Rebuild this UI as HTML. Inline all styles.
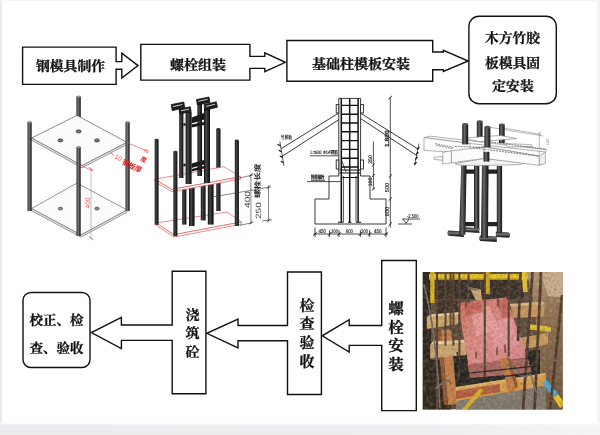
<!DOCTYPE html>
<html lang="zh-CN">
<head>
<meta charset="utf-8">
<title>螺栓安装流程</title>
<style>
html,body{margin:0;padding:0;background:#fff;}
body{width:600px;height:435px;overflow:hidden;position:relative;}
svg{display:block;position:absolute;left:0;top:0;}
text{text-rendering:geometricPrecision;}
#flow-top,#flow-bottom,#d1,#d2,#d3,#d4{opacity:0.999;}
.t{font-family:"Liberation Serif","Noto Serif CJK SC",serif;font-weight:700;fill:#111;stroke:#111;stroke-width:0.3px;}
.bx{fill:#fff;stroke:#111;stroke-width:1.4;stroke-linejoin:miter;}
.ar{fill:#fff;stroke:#111;stroke-width:1.3;stroke-linejoin:miter;}
</style>
</head>
<body>
<svg width="600" height="435" viewBox="0 0 600 435">
<rect x="0" y="0" width="600" height="435" fill="#ffffff"/>
<!-- page frame tint -->
<defs>
<linearGradient id="bband" x1="0" x2="0" y1="0" y2="1"><stop offset="0" stop-color="#ffffff"/><stop offset="0.2" stop-color="#ededef"/><stop offset="1" stop-color="#ececee"/></linearGradient>
<linearGradient id="bbandx" x1="0" x2="1" y1="0" y2="0"><stop offset="0" stop-color="#fff" stop-opacity="0"/><stop offset="0.7" stop-color="#fff" stop-opacity="0.1"/><stop offset="1" stop-color="#fff" stop-opacity="0.45"/></linearGradient>
</defs>
<rect x="0" y="0" width="2" height="435" fill="#ececee"/>
<rect x="597" y="0" width="3" height="435" fill="#f4f4f6"/>
<rect x="0" y="0" width="600" height="1" fill="#f4f4f6"/>
<rect x="0" y="423" width="600" height="12" fill="url(#bband)"/>
<rect x="0" y="423" width="600" height="12" fill="url(#bbandx)"/>

<!-- ===== FLOW BOXES: top row ===== -->
<g id="flow-top">
<path class="bx" d="M116.1 61.6 V47.1 H22.6 V84.4 H116.1 V69.2 H121.8 V78 L138 65.6 L121.8 53.2 V61.6 Z"/>
<text class="t" x="70.5" y="71" font-size="13.8" text-anchor="middle">钢模具制作</text>

<path class="bx" d="M249.9 56.4 V44.4 H140.8 V80.1 H249.9 V68.4 H264.8 V71.7 L285.4 62.3 L264.8 52.9 V56.4 Z"/>
<text class="t" x="198" y="70" font-size="14" text-anchor="middle">螺栓组装</text>

<path class="bx" d="M432.7 52 V40.5 H286.9 V81.3 H432.7 V69.7 H443.4 V71.5 L468.2 61 L443.4 50.4 V52 Z"/>
<text class="t" x="361" y="69" font-size="14" text-anchor="middle">基础柱模板安装</text>

<rect class="bx" x="468.9" y="16.25" width="87.4" height="87.5" rx="10" ry="10"/>
<text class="t" x="512.5" y="43" font-size="13.8" text-anchor="middle">木方竹胶</text>
<text class="t" x="512.5" y="68" font-size="13.8" text-anchor="middle">板模具固</text>
<text class="t" x="513" y="91.3" font-size="13.8" text-anchor="middle">定安装</text>
</g>

<!-- ===== FLOW BOXES: bottom row ===== -->
<g id="flow-bottom">
<rect class="bx" x="23" y="292.5" width="67" height="75" rx="8" ry="8"/>
<text class="t" x="56.5" y="325.4" font-size="13.5" text-anchor="middle">校正、检</text>
<text class="t" x="56.5" y="352.5" font-size="13.5" text-anchor="middle">查、验收</text>

<path class="bx" d="M172.2 325 V271.3 H205.9 V393.8 H172.2 V340.4 H121.4 V348.6 L91.4 332.6 L121.4 317.4 V325 Z"/>
<text class="t" x="192.5" y="319.5" font-size="14" text-anchor="middle">浇</text>
<text class="t" x="192.5" y="338" font-size="14" text-anchor="middle">筑</text>
<text class="t" x="192.5" y="357" font-size="14" text-anchor="middle">砼</text>

<path class="bx" d="M287.5 325.5 V272 H321.4 V394.5 H287.5 V340.8 H238 V348 L206.8 333.3 L238 319.2 V325.5 Z"/>
<text class="t" x="307" y="310.5" font-size="15" text-anchor="middle">检</text>
<text class="t" x="307" y="329" font-size="15" text-anchor="middle">查</text>
<text class="t" x="307" y="348" font-size="15" text-anchor="middle">验</text>
<text class="t" x="307" y="367" font-size="15" text-anchor="middle">收</text>

<path class="bx" d="M381.7 325.5 V260.5 H416.3 V410.6 H381.7 V345.4 H349.2 V352 L322.2 335.8 L349.2 319.7 V325.5 Z"/>
<text class="t" x="396" y="314" font-size="15.5" text-anchor="middle">螺</text>
<text class="t" x="396" y="332.5" font-size="15.5" text-anchor="middle">栓</text>
<text class="t" x="396" y="350.5" font-size="15.5" text-anchor="middle">安</text>
<text class="t" x="396" y="369.5" font-size="15.5" text-anchor="middle">装</text>
</g>

<!-- DRAWINGS -->
<g id="d1">
<defs>
<linearGradient id="rod" x1="0" x2="1" y1="0" y2="0">
<stop offset="0" stop-color="#262626"/><stop offset="0.42" stop-color="#7c7c7c"/><stop offset="0.7" stop-color="#404040"/><stop offset="1" stop-color="#1a1a1a"/>
</linearGradient>
</defs>
<!-- back rod -->
<rect x="76.4" y="97" width="4.4" height="20.5" fill="url(#rod)"/><ellipse cx="78.6" cy="97" rx="2.2" ry="1.1" fill="#9a9a9a" stroke="#333" stroke-width="0.4"/>
<!-- lower plate -->
<path d="M31.6 208.6 L77 183 L127 210 L81 235 Z" fill="#fbfbfb" stroke="#666" stroke-width="0.7"/>
<path d="M31.6 208.6 L81 235 L127 210 V212.2 L81 237.2 L31.6 210.8 Z" fill="#e4e4e4" stroke="#666" stroke-width="0.6"/>
<ellipse cx="60.4" cy="208.6" rx="2.3" ry="1.5" fill="#888" stroke="#333" stroke-width="0.5"/>
<ellipse cx="97" cy="208.6" rx="2.3" ry="1.5" fill="#888" stroke="#333" stroke-width="0.5"/>
<!-- upper plate -->
<path d="M31.6 138 L77 115.4 L127 142.4 L82 165.6 Z" fill="#fbfbfb" stroke="#5a5a5a" stroke-width="0.7"/>
<path d="M31.6 138 L82 165.6 L127 142.4 V144.6 L82 167.8 L31.6 140.2 Z" fill="#e2e2e2" stroke="#666" stroke-width="0.6"/>
<ellipse cx="78.6" cy="131.4" rx="2.5" ry="1.6" fill="#777" stroke="#222" stroke-width="0.6"/>
<ellipse cx="60.4" cy="140.4" rx="2.5" ry="1.6" fill="#777" stroke="#222" stroke-width="0.6"/>
<ellipse cx="97" cy="140.4" rx="2.5" ry="1.6" fill="#777" stroke="#222" stroke-width="0.6"/>
<!-- side rods -->
<rect x="27.5" y="122.5" width="4.2" height="88.5" fill="url(#rod)"/><ellipse cx="29.6" cy="122.5" rx="2.1" ry="1.1" fill="#9a9a9a" stroke="#333" stroke-width="0.4"/>
<rect x="125.5" y="122.5" width="4.2" height="88.5" fill="url(#rod)"/><ellipse cx="127.6" cy="122.5" rx="2.1" ry="1.1" fill="#9a9a9a" stroke="#333" stroke-width="0.4"/>
<rect x="76.5" y="147.5" width="4.2" height="88.5" fill="url(#rod)"/><ellipse cx="78.6" cy="147.5" rx="2.1" ry="1.1" fill="#9a9a9a" stroke="#333" stroke-width="0.4"/>
<!-- dimensions -->
<line x1="91" y1="169" x2="91" y2="238" stroke="#999" stroke-width="0.6"/>
<path d="M89 167.5 L93.5 171 M89 236.5 L93.5 240" stroke="#e03030" stroke-width="0.8" fill="none"/>
<text x="90" y="203" transform="rotate(-90 90 203)" font-family="'Liberation Sans',sans-serif" font-size="6.5" fill="#e05050" text-anchor="middle">400</text>
<path d="M127 142.6 L147 151.2 M82 166 L92 170.5 M110 151.5 L114 156" stroke="#e04040" stroke-width="0.6" fill="none"/>
<text x="114" y="158" transform="rotate(28 114 158)" font-family="'Liberation Sans',sans-serif" font-size="6.5" fill="#e05050">10</text>
<text x="121.5" y="163.5" transform="rotate(27 121.5 163.5)" font-family="'Liberation Sans','Noto Sans CJK SC',sans-serif" font-weight="bold" font-size="7" fill="#e81818">钢板厚</text>
<text x="140" y="160" transform="rotate(27 140 160)" font-family="'Liberation Sans','Noto Sans CJK SC',sans-serif" font-weight="bold" font-size="6" fill="#e81818">度</text>
<text x="143" y="151" transform="rotate(27 143 151)" font-family="'Liberation Sans',sans-serif" font-size="5" fill="#e05050">45</text>
</g>
<g id="d2">
<defs>
<linearGradient id="rod2" x1="0" x2="1" y1="0" y2="0">
<stop offset="0" stop-color="#111"/><stop offset="0.4" stop-color="#4a4a4a"/><stop offset="0.6" stop-color="#2a2a2a"/><stop offset="1" stop-color="#0c0c0c"/>
</linearGradient>
</defs>
<!-- back-right outer rod (behind plates) -->
<rect x="216.3" y="129" width="4.2" height="82" fill="url(#rod2)"/><ellipse cx="218.4" cy="129" rx="2.1" ry="1" fill="#333"/>
<!-- lower plate -->
<path d="M155.9 223 L227 212 L241.4 222 L174 234.7 Z" fill="#fff" stroke="#e05a5a" stroke-width="0.7"/>
<path d="M155.9 223 L174 234.7 L241.4 222 V224.2 L174 237 L155.9 225.2 Z" fill="#fff" stroke="#e05a5a" stroke-width="0.7"/>
<!-- inner bolts lower part -->
<rect x="182.2" y="186" width="4.2" height="38.6" fill="url(#rod2)"/>
<rect x="189" y="186" width="5.6" height="40" fill="url(#rod2)"/>
<rect x="200.8" y="183" width="4.8" height="37.4" fill="url(#rod2)"/>
<rect x="207.8" y="183" width="5.8" height="41.6" fill="url(#rod2)"/>
<!-- upper plate -->
<path d="M154.7 179.3 L223.8 166.7 L240.6 176.8 L171.8 189.4 Z" fill="#fff" stroke="#e05a5a" stroke-width="0.7"/>
<path d="M154.7 179.3 L171.8 189.4 L240.6 176.8 V179 L171.8 191.7 L154.7 181.5 Z" fill="#fff" stroke="#e05a5a" stroke-width="0.7"/>
<!-- inner bolts upper part -->
<rect x="179.2" y="110" width="4.2" height="68" fill="url(#rod2)"/>
<rect x="185.6" y="112" width="6" height="72" fill="url(#rod2)"/>
<rect x="197.4" y="103" width="4.6" height="73" fill="url(#rod2)"/>
<rect x="204" y="108" width="6" height="75" fill="url(#rod2)"/>
<path d="M184.4 118 V176 M203 112 V172" stroke="#bbb" stroke-width="0.5"/>
<!-- braces -->
<path d="M191.6 117.5 L204 113 V119.5 L191.6 123.5 Z M191.6 124.5 L204 122 V125 L191.6 127.5 Z" fill="#1a1a1a"/>
<path d="M191.6 163.5 L204 160 V164.5 L191.6 168 Z M191.6 169 L204 166 V168.5 L191.6 171.5 Z" fill="#1a1a1a"/>
<path d="M183.4 124.5 H185.6 M183.4 165 H185.6 M202 118 H204 M202 163 H204" stroke="#1a1a1a" stroke-width="2.6"/>
<!-- heads -->
<g stroke="#111" stroke-width="0.7" fill="#1e1e1e">
<path d="M171.2 104.6 L183.8 102 L184.8 107.6 L172.2 110.8 Z"/>
<path d="M179 109 L190.4 106.8 L191.2 111.6 L179.8 114 Z"/>
<path d="M196.4 99.6 L209 97 L210 102.4 L197.4 105 Z"/>
<path d="M204 104.6 L216.4 101.8 L217.4 107.2 L205 110.4 Z"/>
</g>
<path d="M173 106.6 L182.4 104.5 M181 110.8 L189 109.2 M198.2 101.3 L207.6 99.3 M206 106.4 L215 104.3" stroke="#cfcfcf" stroke-width="1"/>
<!-- outer rods -->
<rect x="154.7" y="139.8" width="3.9" height="85" fill="url(#rod2)"/><ellipse cx="156.6" cy="139.8" rx="1.95" ry="1" fill="#333"/>
<rect x="173.4" y="151.8" width="4" height="84.4" fill="url(#rod2)"/><ellipse cx="175.4" cy="151.8" rx="2" ry="1" fill="#333"/>
<rect x="234.8" y="140.5" width="4.1" height="85.5" fill="url(#rod2)"/><ellipse cx="236.8" cy="140.5" rx="2.05" ry="1" fill="#333"/>
<!-- dimensions -->
<g stroke="#333" stroke-width="0.6" fill="none">
<path d="M239.5 178 L253.5 174.8 M240 225.3 L253.5 222.4 M250.9 173.5 V224"/>
<path d="M211 197.2 L271 186.9 M262 220.9 L272 219.9 M268.5 185.5 V221.5"/>
<path d="M249.2 176.7 L252.6 173.4 M249.2 224.3 L252.6 221 M266.8 188.7 L270.2 185.4 M266.8 222 L270.2 218.7" stroke-width="0.9"/>
</g>
<text x="249.8" y="199.5" transform="rotate(-90 249.8 199.5)" font-family="'Liberation Sans',sans-serif" font-size="7.6" fill="#444" text-anchor="middle" textLength="17" lengthAdjust="spacingAndGlyphs">400</text>
<text x="260.6" y="210.6" transform="rotate(-90 260.6 210.6)" font-family="'Liberation Sans',sans-serif" font-size="7.6" fill="#444" text-anchor="middle" textLength="17" lengthAdjust="spacingAndGlyphs">250</text>
<text x="260" y="180.8" transform="rotate(-90 260 180.8)" font-family="'Liberation Sans','Noto Sans CJK SC',sans-serif" font-weight="bold" font-size="7" fill="#222" text-anchor="middle" textLength="34.5" lengthAdjust="spacingAndGlyphs">螺栓长度</text>
</g>
<g id="d3">
<g stroke="#161616" fill="none" stroke-width="0.85">
<!-- braces -->
<path d="M338.8 113 L281 148.7 M338.8 119.7 L281.7 156.6"/>
<path d="M361 113.5 L418 149 M361 118.8 L417.2 155.8"/>
<path d="M279.8 141.5 L284 165.8" stroke-width="0.7"/><path d="M277.4 144.2 L280.6 146 M278.6 150.2 L281.6 151.6 M279.8 156 L282.6 157.6 M280.8 161.2 L283.4 162.8" stroke-width="1.2"/>
<path d="M419 143.6 L414.6 165.3" stroke-width="0.7"/><path d="M419.4 147.2 L417 149.6 M418.4 152 L416 154.4 M417.6 157 L415.2 159.4 M416.6 162.2 L414.2 164.4" stroke-width="1.3"/>
<!-- column outline -->
<path d="M338.8 98.4 V176 M360.6 98.4 V176 M338.8 98.4 H360.6"/>
<!-- clamps -->
<rect x="336.2" y="104.6" width="2.6" height="8.4" fill="#fff"/>
<rect x="360.6" y="104.6" width="2.8" height="8.4" fill="#fff"/>
<rect x="336.2" y="160" width="2.6" height="9" fill="#fff"/>
<rect x="360.6" y="160" width="2.8" height="9" fill="#fff"/>
<!-- footing -->
<path d="M338.8 176 H329 V199 H315 V224 H386 V199 H370 V176 H360.6"/>
</g>
<!-- rebar -->
<g stroke="#111" fill="none" stroke-width="1.5">
<path d="M341.3 98.4 V222 M349.7 98.4 V222 M358.1 98.4 V222"/>
<path d="M341.3 105.4 H358.1 M341.3 114.2 H358.1 M341.3 123.0 H358.1 M341.3 131.8 H358.1 M341.3 140.6 H358.1 M341.3 149.4 H358.1 M341.3 158.2 H358.1 M341.3 167.0 H358.1" stroke-width="1.4"/>
<path d="M339.5 170 H360 M339.5 173 H360 M341.3 177.5 H358.1" stroke-width="1.1"/>
<path d="M338 222.3 H343.5 M348 222.3 H351.4 M356 222.3 H361.2" stroke-width="1.1"/>
</g>
<g stroke="#161616" fill="none" stroke-width="0.75">
<path d="M343.4 176 V222 M356 176 V222"/>
<path d="M341.5 160 L346 172"/>
<!-- leaders -->
<path d="M310 155.8 H338.8 M307 181.6 H341 M311 180.3 H325"/>
<!-- vertical dims -->
<path d="M390.3 97 V227.5"/>
<path d="M388.6 99.2 L392 95.8 M388.6 177.7 L392 174.3 M388.6 200.7 L392 197.3 M388.6 225.7 L392 222.3" stroke-width="0.9"/>
<path d="M373.4 141.5 V189.5"/>
<path d="M371.8 166.5 L375 163.5 M371.8 177 L375 174 M371.8 190.5 L375 187.5" stroke-width="0.9"/>
<!-- horizontal dims -->
<path d="M313.5 234 H388"/>
<path d="M315 227.5 V237 M329.6 230 V237 M339 230 V237 M360.4 230 V237 M369.6 230 V237 M386 227.5 V237"/>
<path d="M313.5 235.7 L316.5 232.3 M328.1 235.7 L331.1 232.3 M337.5 235.7 L340.5 232.3 M358.9 235.7 L361.9 232.3 M368.1 235.7 L371.1 232.3 M384.5 235.7 L387.5 232.3" stroke-width="1"/>
<!-- level mark -->
<path d="M402 219 H420 M403 219 L406 223.4 L409 219 M398 224 H412"/>
</g>
<g font-family="'Liberation Sans','Noto Sans CJK SC',sans-serif" fill="#151515" stroke="#151515" stroke-width="0.15">
<text x="281" y="138.6" font-size="5.2" textLength="11" lengthAdjust="spacingAndGlyphs">竹胶板</text>
<text x="310.5" y="154" font-size="5" textLength="27.5" lengthAdjust="spacingAndGlyphs">L=600 Φ14钢筋</text>
<text x="311" y="179.2" font-size="5.2" textLength="13.5" lengthAdjust="spacingAndGlyphs" font-weight="bold">预埋螺栓</text>
<text x="389" y="138.6" transform="rotate(-90 389 138.6)" font-size="6" font-weight="bold" text-anchor="middle" textLength="17" lengthAdjust="spacingAndGlyphs">1.800</text>
<text x="388.6" y="187.5" transform="rotate(-90 388.6 187.5)" font-size="5.6" text-anchor="middle">500</text>
<text x="388.6" y="211.5" transform="rotate(-90 388.6 211.5)" font-size="5.6" text-anchor="middle">600</text>
<text x="372" y="159.5" transform="rotate(-90 372 159.5)" font-size="5.2" text-anchor="middle">250</text>
<text x="372" y="182" transform="rotate(-90 372 182)" font-size="5.2" text-anchor="middle">100</text>
<text x="322.3" y="232.6" font-size="5.4" text-anchor="middle" textLength="7.5" lengthAdjust="spacingAndGlyphs">450</text>
<text x="334.6" y="232.6" font-size="5.4" text-anchor="middle" textLength="6.5" lengthAdjust="spacingAndGlyphs">300</text>
<text x="349.4" y="232.6" font-size="5.4" text-anchor="middle" textLength="7" lengthAdjust="spacingAndGlyphs">600</text>
<text x="364.6" y="232.6" font-size="5.4" text-anchor="middle" textLength="6.5" lengthAdjust="spacingAndGlyphs">300</text>
<text x="377.8" y="232.6" font-size="5.4" text-anchor="middle" textLength="7.5" lengthAdjust="spacingAndGlyphs">450</text>
<text x="407" y="217.6" font-size="5.4" textLength="11.5" lengthAdjust="spacingAndGlyphs">-2.500</text>
</g>
</g>
<g id="d4">
<defs>
<linearGradient id="rod4" x1="0" x2="1" y1="0" y2="0">
<stop offset="0" stop-color="#1c1c1c"/><stop offset="0.4" stop-color="#6a6a6a"/><stop offset="0.65" stop-color="#3a3a3a"/><stop offset="1" stop-color="#151515"/>
</linearGradient>
<linearGradient id="foot4" x1="0" x2="0" y1="0" y2="1">
<stop offset="0" stop-color="#1c1c1c"/><stop offset="0.4" stop-color="#777"/><stop offset="0.7" stop-color="#333"/><stop offset="1" stop-color="#151515"/>
</linearGradient>
</defs>
<!-- dimension lines behind -->
<g stroke="#777" stroke-width="0.5" fill="none">
<path d="M486 126.7 L543.3 136 M503.3 128 L541 134.5 M539.3 132.7 V156 M537.5 134.3 L541.3 131.3"/>
</g>
<text x="548.5" y="142" transform="rotate(-90 548.5 142)" font-family="'Liberation Sans',sans-serif" font-size="4" fill="#888" text-anchor="middle">100</text>
<!-- back bolts above timbers -->
<rect x="476.8" y="121.5" width="5.8" height="19" fill="url(#rod4)"/><ellipse cx="479.7" cy="121.5" rx="2.9" ry="1.2" fill="#555"/>
<rect x="499" y="124.6" width="5.7" height="18.5" fill="url(#rod4)"/><ellipse cx="501.85" cy="124.6" rx="2.85" ry="1.2" fill="#555"/>
<!-- lower bolts -->
<rect x="474" y="166" width="5.3" height="64.5" fill="url(#rod4)"/>
<rect x="496.8" y="166" width="5.3" height="68.5" fill="url(#rod4)"/>
<path d="M465 169.5 H475 V173.8 H465 Z M488 169.5 H497.5 V173.8 H488 Z M464.5 222 H475 V226.3 H464.5 Z M488 222 H497.5 V226.3 H488 Z" fill="#222"/>
<!-- feet -->
<g>
<path d="M464.8 227.2 L479.3 228.2 V233 L464.8 232 Z" fill="url(#foot4)"/>
<path d="M495.8 231.8 L509 232.6 Q511.4 235 509 237.8 L495.8 237 Z" fill="url(#foot4)"/>
<path d="M448.6 230.4 L463.8 231.6 V237 L448.6 235.8 Q446 233 448.6 230.4 Z" fill="url(#foot4)"/>
<path d="M480.3 235.4 L496.8 236.4 V242 L480.3 241 Q477.8 238 480.3 235.4 Z" fill="url(#foot4)"/>
</g>
<path d="M461.2 164 L466.6 164 L465.4 234.8 L459.2 234.8 Z" fill="url(#rod4)"/>
<path d="M482 164 L488.6 164 L488 238 L481 238 Z" fill="url(#rod4)"/>
<!-- timbers -->
<g stroke="#7c7c7c" stroke-width="0.6" fill="#fcfcfc" stroke-linejoin="round">
<!-- lower plate -->
<path d="M455 163.6 L484.4 158.4 L524 162.6 L521 164.6 L488 165.4 L461 165.4 Z" fill="#f3f3f3"/>
<!-- back long beam -->
<path d="M424 137.6 L430.1 136.2 L546.8 149.6 L545.3 152 L480 144.6 L470 143.5 Z"/>
<path d="M424 137.6 L470 143.5 L470 153.6 L424 150.3 Z"/>
<!-- far cross pieces -->
<path d="M462 138.2 L500 135.4 L516.7 138.6 L480 141.6 Z" fill="#fdfdfd"/>
<path d="M505 143.6 L531.3 144.6 L532.6 146.6 L508 147 Z"/>
<!-- upper plate -->
<path d="M455 152.3 L484.4 146.7 L539.3 156 L512 158 L470 154.6 Z" fill="#f6f6f6"/>
<!-- stub -->
<path d="M434.2 157.4 L442.8 156.2 V160.4 L434.2 159.4 Z"/>
<!-- left-front beam (rises to right) -->
<path d="M442.8 152.3 L451.4 150.8 L451.4 162.9 L442.8 164 Z"/>
<path d="M451.4 150.8 L484.2 146.9 L484.2 158.4 L451.4 162.9 Z"/>
<!-- right-front long beam -->
<path d="M484.2 147 L539.3 156 L539.3 165.3 L484.2 158.4 Z"/>
<path d="M539.3 156 L545.3 152 L545.3 163.4 L539.3 165.3 Z" fill="#f0f0f0"/>
</g>
<g stroke="#5a5a5a" stroke-width="0.8" stroke-dasharray="1.8 1.1" fill="none">
<path d="M473.2 147.9 L539 156.2 M435.2 143.7 L453.4 147.4 M455 146.4 L484 147.4 M491.3 142 L546 149.4 M436.4 145.4 L452.4 148.6"/>
</g>
<!-- front bolts through timbers -->
<rect x="462.2" y="124.2" width="6" height="20.2" fill="url(#rod4)"/><ellipse cx="465.2" cy="124.2" rx="3" ry="1.2" fill="#555"/>
<rect x="484.4" y="127" width="6" height="20.4" fill="url(#rod4)"/><ellipse cx="487.4" cy="127" rx="3" ry="1.2" fill="#555"/>
<rect x="483.6" y="151.8" width="5.8" height="9.8" fill="url(#rod4)"/>
</g>
<g id="photo">
<defs>
<clipPath id="pc"><rect x="422.7" y="272" width="140" height="137.6"/></clipPath>
<filter id="pb" x="-5%" y="-5%" width="110%" height="110%"><feGaussianBlur stdDeviation="0.45"/></filter>
<filter id="pn" x="0" y="0" width="100%" height="100%"><feTurbulence type="fractalNoise" baseFrequency="0.35" numOctaves="3" seed="7" result="n"/><feColorMatrix in="n" type="matrix" values="0 0 0 0 0.12  0 0 0 0 0.08  0 0 0 0 0.05  0.8 0 0 0 -0.34"/></filter>
<filter id="pn2" x="0" y="0" width="100%" height="100%"><feTurbulence type="fractalNoise" baseFrequency="0.3" numOctaves="3" seed="21" result="n"/><feColorMatrix in="n" type="matrix" values="0 0 0 0 1  0 0 0 0 0.85  0 0 0 0 0.75  0 1.0 0 0 -0.42"/></filter>
<linearGradient id="soil" x1="0" x2="0" y1="0" y2="1"><stop offset="0" stop-color="#b39672"/><stop offset="0.3" stop-color="#8f7052"/><stop offset="1" stop-color="#6a503b"/></linearGradient>
<linearGradient id="brd" x1="0" x2="1" y1="0" y2="1"><stop offset="0" stop-color="#cb6a5a"/><stop offset="0.45" stop-color="#dc8a84"/><stop offset="1" stop-color="#d8868a"/></linearGradient>
</defs>
<g clip-path="url(#pc)">
<rect x="422.7" y="272" width="140" height="137.6" fill="#5c4b3c"/>
<g filter="url(#pb)">
<!-- soil right -->
<path d="M526 270 H565 V412 H541 L539 345 L533 300 Z" fill="url(#soil)"/>
<path d="M540 270 H565 V298 L548 296 Z" fill="#c9ad8c"/>
<!-- dark top zone -->
<rect x="422" y="270" width="9" height="142" fill="#2c221b"/>
<rect x="434" y="279" width="90" height="20" fill="#362d27"/>
<rect x="436" y="300" width="26" height="15" fill="#3a2e27"/>
<!-- bottom concrete -->
<path d="M456 398 L546 386 V412 H456 Z" fill="#7f776d"/>
<path d="M422 360 H444 L452 412 H422 Z" fill="#2e251e"/>
<!-- yellow pipes top -->
<rect x="429" y="274" width="99" height="5.6" fill="#e6c327"/>
<rect x="429" y="278.4" width="99" height="1.4" fill="#b3901a"/>
<rect x="430.2" y="270" width="4.4" height="33" fill="#d9b322"/>
<rect x="485.5" y="270" width="4.3" height="24" fill="#cfa81f"/>
<path d="M521.5 270 H526.6 L527.6 292 H523 Z" fill="#e3c535"/>
<!-- dark cavity under boards -->
<path d="M452 356 L540 350 L540 374 L470 386 L456 386 Z" fill="#25211f"/>
<!-- left vertical orange timber -->
<path d="M441 330 L451 329 L457 404 L448 405 Z" fill="#c27e46"/>
<path d="M437 331 L441 330 L448 405 L444 405 Z" fill="#8d5530"/>
<!-- bottom frame -->
<path d="M455.7 387.3 L546 372.9 L546 385.6 L455.7 401 Z" fill="#d69c48"/>
<path d="M455.7 391 L500 384 L500 392 L455.7 399 Z" fill="#b25a3c"/>
<path d="M455.7 387.3 L546 372.9 L546 375.5 L455.7 390 Z" fill="#e0b068"/>
<!-- wood left upper -->
<path d="M426.8 317.3 L458.3 314.8 L458.3 324 L426.8 329 Z" fill="#cfa868"/>
<path d="M426.8 317.3 L458.3 314.8 L460 312 L430 314.4 Z" fill="#ead39f"/>
<!-- wood left lower -->
<path d="M430.2 344.8 L466 343 L466 355 L430.2 358.4 Z" fill="#c9a470"/>
<path d="M430.2 344.8 L466 343 L468 339.5 L433 341.2 Z" fill="#e3cc9c"/>
<!-- wood top diag -->
<path d="M469.3 287 L481 289.5 L482 301 L476 300.5 Z" fill="#c9a474"/>
<!-- wood right upper -->
<path d="M511 307 L544.4 304.6 L544.4 316.5 L513 318 Z" fill="#c7955a"/>
<path d="M509 304 L543 301.4 L544.4 304.6 L511 307 Z" fill="#dcb880"/>
<!-- wood right lower -->
<path d="M519 338 L548 333 L548 344 L522 350 Z" fill="#c8995c"/>
<!-- second board -->
<path d="M467.5 364 L527.7 358 L532 373 L470 378 Z" fill="#a9645a"/>
<!-- red board -->
<path d="M457.6 303 L506.2 297.6 L527.6 357.8 L468.3 364.6 Z" fill="url(#brd)"/>
<path d="M470 310 L490 306 L498 330 L476 336 Z" fill="#eaa6a4" opacity="0.7"/>
<path d="M488 322 L512 318 L520 346 L494 350 Z" fill="#e8a0a4" opacity="0.6"/>
<path d="M464 304 L480 302 L484 312 L466 316 Z" fill="#b85044" opacity="0.6"/>
<path d="M496 300 L506 298.5 L512 316 L502 318 Z" fill="#b44e44" opacity="0.6"/>
<!-- diagonal wood bottom -->
<path d="M500.2 358.4 L507 357.6 L515.5 389 L508.7 394 Z" fill="#c17a42"/>
<path d="M507 357.6 L510 358.5 L518 386 L515.5 389 Z" fill="#8e5228"/>
<!-- yellow pipe right -->
<path d="M529 324 L551 327 L551 332 L529 329.6 Z" fill="#dfbf34"/>
<!-- yellow diag bottom -->
<path d="M460.8 411 L480 388 L483.5 390.5 L465.5 411 Z" fill="#d9b223"/>
<!-- blue pipe -->
<path d="M542.2 383 L546.8 379.8 L558 394 L553.2 397.4 Z" fill="#49a6d6"/>
<path d="M553.2 397.4 L558 394 L565 404 L560 408 Z" fill="#e6c226"/>
<!-- rebars -->
<g stroke="#543c2e" stroke-width="2" fill="none" stroke-linecap="round">
<path d="M437 272 V410 M445.5 272 V345 M450.6 272 V330 M453.4 272 V345 M459.4 272 V376 M468.5 272 V302 M484.8 272 V376 M508.7 272 V356"/>
<path d="M520.6 272 L518 340 M532.5 272 L523 410 M541 272 L534.5 410 M562 296 L550 410" stroke="#4c382c" stroke-width="2.7"/>
<path d="M498 299 V306 M466 300 V307 M497 348 V355 M505 345 V352 M476 352 V358" stroke="#6a4a3a" stroke-width="1.6"/>
</g>
<g stroke="#77685e" stroke-width="1.7" fill="none" stroke-linecap="round">
<path d="M424 285 Q436 330 440 408"/>
<path d="M436 388 L446 381 Q450 379 451 384"/>
<path d="M506 368 Q509 362 514 366 L520 374 Q526 380 530 372"/>
<path d="M530 372 L536 392 M548 364 Q552 358 560 362"/>
<path d="M468.4 288.4 L478 289.6"/>
</g>
<g stroke="#23252b" stroke-width="1.3" fill="none">
<path d="M454 356 L458 378 Q459 382 464 381.5 L540 372"/>
<path d="M457 352 L461 374 L536 366"/>
</g>
</g>
<rect x="422.7" y="272" width="140" height="137.6" filter="url(#pn)"/>
<rect x="422.7" y="272" width="140" height="137.6" filter="url(#pn2)" opacity="0.4"/>
</g>
</g>
</svg>
</body>
</html>
